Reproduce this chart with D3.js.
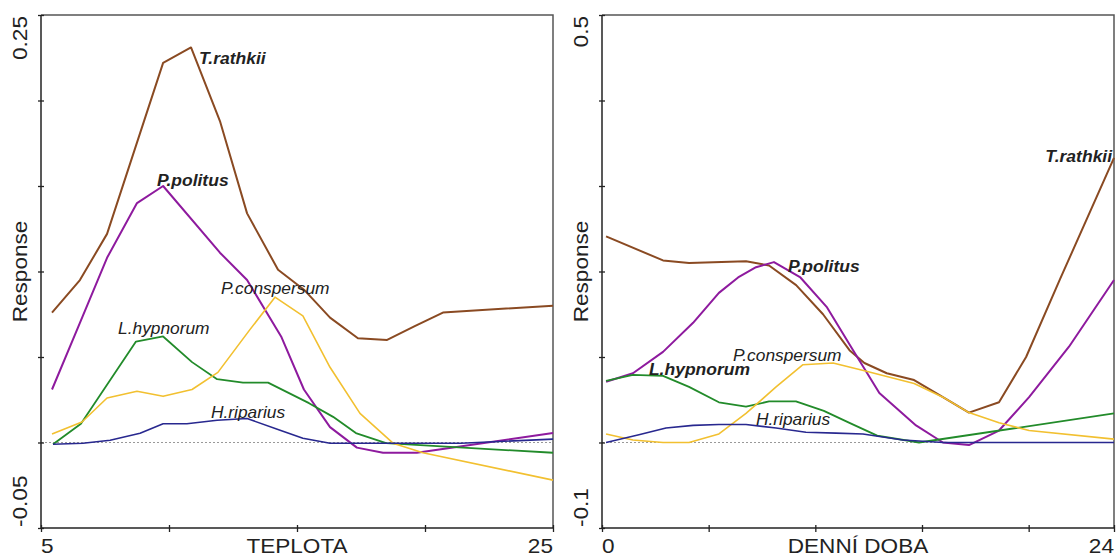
<!DOCTYPE html>
<html>
<head>
<meta charset="utf-8">
<script src="https://cdn.jsdelivr.net/npm/d3@7"></script>
<style>
  html, body { margin: 0; padding: 0; background: #fff; }
  svg { display: block; }
  text { font-family: "Liberation Sans", Arial, sans-serif; }
</style>
</head>
<body>
<svg id="chart" width="1116" height="557"></svg>
<script>
// ---- Response curves against temperature (TEPLOTA) ----
const tempRathkii = [[5.43,0.076],[6.52,0.095],[7.58,0.122],[9.77,0.222],[10.86,0.231],[11.99,0.188],[13.05,0.134],[14.26,0.101],[15.3,0.089],[16.29,0.073],[17.38,0.061],[18.52,0.060],[19.6,0.068],[20.7,0.076],[25,0.080]];
const tempPolitus = [[5.43,0.031],[6.52,0.070],[7.58,0.108],[8.75,0.140],[9.77,0.150],[11.99,0.111],[13.05,0.095],[14.38,0.062],[15.27,0.031],[16.29,0.009],[17.34,-0.003],[18.36,-0.006],[19.68,-0.006],[25,0.0055]];
const tempHypnorum = [[5.47,-0.001],[6.56,0.011],[8.71,0.059],[9.77,0.062],[10.9,0.047],[11.88,0.037],[12.89,0.035],[13.87,0.035],[15.47,0.023],[16.41,0.015],[17.3,0.0055],[18.48,-0.0004],[25,-0.006]];
const tempConspersum = [[5.43,0.005],[6.6,0.012],[7.58,0.026],[8.75,0.030],[9.77,0.027],[10.9,0.031],[11.91,0.041],[13.16,0.066],[14.14,0.085],[15.23,0.074],[16.29,0.044],[17.46,0.017],[18.75,-0.0004],[19.92,-0.006],[25,-0.022]];
const tempRiparius = [[5.47,-0.001],[6.64,-0.0004],[7.7,0.0013],[8.87,0.0054],[9.77,0.011],[10.7,0.011],[11.88,0.013],[13.05,0.014],[14.34,0.0072],[15.23,0.0025],[16.29,-0.0004],[21.4,-0.0004],[25,0.002]];

// ---- Response curves against time of day (DENNÍ DOBA) ----
const dayRathkii = [[0.19,0.241],[2.86,0.213],[4.08,0.210],[6.75,0.212],[7.83,0.207],[9.1,0.184],[10.36,0.150],[11.6,0.108],[12.3,0.093],[13.35,0.081],[14.63,0.073],[15.98,0.053],[17.2,0.035],[18.61,0.047],[19.88,0.100],[21.47,0.191],[24,0.333]];
const dayPolitus = [[0.19,0.071],[1.45,0.081],[2.86,0.106],[4.27,0.140],[5.48,0.175],[6.38,0.193],[7.22,0.205],[8.06,0.211],[9.3,0.193],[10.55,0.158],[11.77,0.108],[13.0,0.058],[14.72,0.020],[15.98,0.000],[17.2,-0.003],[18.61,0.014],[20.02,0.053],[21.89,0.112],[24,0.190]];
const dayHypnorum = [[0.19,0.072],[1.45,0.079],[2.86,0.078],[4.08,0.065],[5.48,0.047],[6.75,0.042],[7.83,0.048],[9.09,0.048],[10.4,0.037],[11.6,0.023],[12.9,0.008],[14.86,0.000],[24,0.034]];
const dayConspersum = [[0.19,0.010],[1.45,0.003],[2.86,0.000],[4.08,0.000],[5.48,0.010],[6.75,0.034],[8.16,0.065],[9.42,0.091],[10.83,0.093],[12.3,0.084],[14.63,0.069],[15.98,0.053],[17.2,0.035],[18.61,0.023],[20.02,0.014],[24,0.004]];
const dayRiparius = [[0.19,0.000],[1.73,0.009],[3.0,0.017],[4.27,0.020],[5.48,0.021],[6.75,0.021],[8.16,0.017],[9.56,0.012],[10.97,0.011],[12.23,0.010],[14.1,0.003],[16.0,0.000],[24,0.000]];

// ---- Axis settings ----
const tempDomain = [5, 25];
const tempTicks = [5, 10, 15, 20, 25];
const tempTickLabels = ["5", "25"];
const tempRespDomain = [-0.05, 0.25];
const tempRespTicks = [-0.05, 0, 0.05, 0.1, 0.15, 0.2, 0.25];
const tempRespLabels = ["-0.05", "0.25"];

const dayDomain = [0, 24];
const dayTicks = [0, 5, 10, 15, 20, 24];
const dayTickLabels = ["0", "24"];
const dayRespDomain = [-0.1, 0.5];
const dayRespTicks = [-0.1, 0, 0.1, 0.2, 0.3, 0.4, 0.5];
const dayRespLabels = ["-0.1", "0.5"];

const speciesNames = ["T.rathkii", "P.politus", "L.hypnorum", "P.conspersum", "H.riparius"];
const speciesColors = ["#8a4a22", "#8e1a9e", "#228b2a", "#f2c030", "#28288f"];
const speciesWidths = [2, 2, 1.8, 1.6, 1.6];

// label anchors in data units, and which labels are bold
const tempLabelPos = [[11.17,0.2212],[9.53,0.150],[8.01,0.0633],[12.03,0.0868],[11.64,0.0142]];
const tempLabelBold = [true, true, false, false, false];
const dayLabelPos = [[20.78,0.328],[8.72,0.199],[2.2,0.079],[6.14,0.095],[7.22,0.020]];
const dayLabelBold = [true, true, true, false, false];

const svg = d3.select("#chart");

// text helper: the lettering is slightly wide, so it is stretched along its baseline
const AXIS_FONT = 20, AXIS_STRETCH = 1.13;
function addText(g, x, y, str, o = {}) {
  const rot = o.rotate ? " rotate(-90)" : "";
  return g.append("text")
    .attr("transform", `translate(${x},${y})${rot} scale(${o.stretch || 1},1)`)
    .attr("text-anchor", o.anchor || "start")
    .attr("font-size", o.size || AXIS_FONT)
    .attr("font-style", o.italic ? "italic" : "normal")
    .attr("font-weight", o.bold ? "bold" : "normal")
    .attr("fill", "#222")
    .text(str);
}

function panel(opts) {
  const { left, right, top, bottom } = opts;
  const x = d3.scaleLinear().domain(opts.xDomain).range([left, right]);
  const y = d3.scaleLinear().domain(opts.yDomain).range([bottom, top]);
  const g = svg.append("g");

  // top and right frame
  g.append("path")
    .attr("d", `M${left},${top}H${right}V${bottom}`)
    .attr("fill", "none").attr("stroke", "#555").attr("stroke-width", 1.5);

  // zero reference line
  g.append("line")
    .attr("x1", left).attr("x2", right)
    .attr("y1", y(0)).attr("y2", y(0))
    .attr("stroke", "#999").attr("stroke-width", 1)
    .attr("stroke-dasharray", "2,2");

  // curves
  const line = d3.line().x(d => x(d[0])).y(d => y(d[1]));
  opts.series.forEach((s, i) => {
    g.append("path")
      .datum(s)
      .attr("d", line)
      .attr("fill", "none")
      .attr("stroke", speciesColors[i])
      .attr("stroke-width", speciesWidths[i])
      .attr("stroke-linejoin", "round");
  });

  // left axis
  const ya = g.append("g").attr("transform", `translate(${left},0)`)
    .call(d3.axisLeft(y).tickValues(opts.yTicks).tickSize(3).tickFormat(""));
  ya.select(".domain").attr("stroke", "#222").attr("stroke-width", 1.5).attr("d", `M0,${top}V${bottom}`);
  ya.selectAll(".tick line").attr("x1", 3).attr("x2", -3).attr("stroke", "#222").attr("stroke-width", 1.3);

  // bottom axis
  const xa = g.append("g").attr("transform", `translate(0,${bottom})`)
    .call(d3.axisBottom(x).tickValues(opts.xTicks).tickSize(3).tickFormat(""));
  xa.select(".domain").attr("stroke", "#222").attr("stroke-width", 1.5).attr("d", `M${left},0H${right}`);
  xa.selectAll(".tick line").attr("y1", -3).attr("y2", 4).attr("stroke", "#222").attr("stroke-width", 1.3);

  // end tick labels and title on the y axis (rotated)
  const yLabX = left - 14;
  addText(g, yLabX, y(opts.yDomain[1]) + 1, opts.yLabels[1], { rotate: true, anchor: "end", stretch: AXIS_STRETCH });
  addText(g, yLabX, y(opts.yDomain[0]) - 1, opts.yLabels[0], { rotate: true, anchor: "start", stretch: AXIS_STRETCH });
  addText(g, yLabX, (top + bottom) / 2, "Response", { rotate: true, anchor: "middle", stretch: AXIS_STRETCH });

  // end tick labels and title on the x axis
  const xLabY = bottom + 25;
  addText(g, x(opts.xDomain[0]), xLabY, opts.xLabels[0], { anchor: "start", stretch: AXIS_STRETCH });
  addText(g, x(opts.xDomain[1]), xLabY, opts.xLabels[1], { anchor: "end", stretch: AXIS_STRETCH });
  addText(g, opts.titleX(x), xLabY, opts.title, { anchor: "middle", stretch: AXIS_STRETCH });

  // species labels
  speciesNames.forEach((name, i) => {
    const bold = opts.labelBold[i];
    addText(g, x(opts.labelPos[i][0]), y(opts.labelPos[i][1]), name, {
      size: 17, italic: true, bold: bold, stretch: bold ? 1.03 : 1.02
    });
  });
}

panel({
  left: 41, right: 553, top: 15, bottom: 528,
  xDomain: tempDomain, yDomain: tempRespDomain,
  xTicks: tempTicks, yTicks: tempRespTicks,
  xLabels: tempTickLabels, yLabels: tempRespLabels,
  title: "TEPLOTA", titleX: x => x(15),
  series: [tempRathkii, tempPolitus, tempHypnorum, tempConspersum, tempRiparius],
  labelPos: tempLabelPos, labelBold: tempLabelBold
});

panel({
  left: 602, right: 1114, top: 15, bottom: 528,
  xDomain: dayDomain, yDomain: dayRespDomain,
  xTicks: dayTicks, yTicks: dayRespTicks,
  xLabels: dayTickLabels, yLabels: dayRespLabels,
  title: "DENNÍ DOBA", titleX: x => x(12),
  series: [dayRathkii, dayPolitus, dayHypnorum, dayConspersum, dayRiparius],
  labelPos: dayLabelPos, labelBold: dayLabelBold
});
</script>
</body>
</html>
